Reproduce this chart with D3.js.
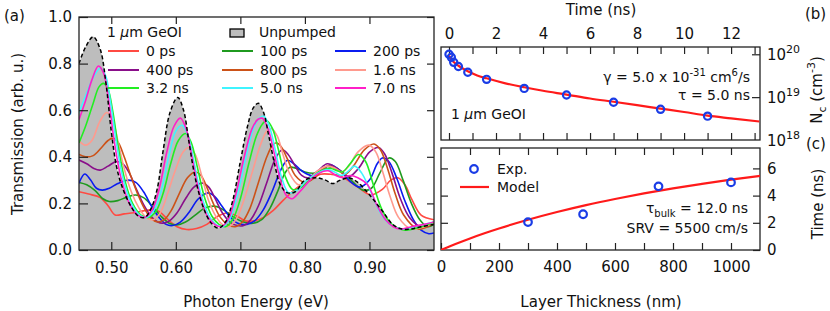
<!DOCTYPE html>
<html lang="en">
<head>
<meta charset="utf-8">
<title>GeOI transient transmission</title>
<script src="https://d3js.org/d3.v7.min.js"></script>
<style>
  body { margin: 0; background: #fff; }
  svg text { font-family: "DejaVu Sans", sans-serif; fill: #111; }
  .tick line { stroke: #222; stroke-width: 1.2px; }
  .tick text { font-size: 15px; }
  .frame { fill: none; stroke: #222; stroke-width: 1.3px; }
</style>
</head>
<body>
<script>
// ---------- panel (a): transmission spectra, [energy eV, transmission] ----------
var unpumped = [[0.45,0.80],[0.46,0.87],[0.472,0.915],[0.483,0.86],[0.492,0.71],[0.50,0.51],[0.508,0.36],[0.517,0.27],[0.53,0.19],[0.542,0.145],[0.552,0.14],[0.562,0.18],[0.571,0.26],[0.58,0.42],[0.591,0.59],[0.603,0.655],[0.612,0.60],[0.62,0.47],[0.63,0.31],[0.643,0.18],[0.655,0.115],[0.666,0.094],[0.677,0.12],[0.688,0.21],[0.70,0.38],[0.711,0.53],[0.72,0.61],[0.728,0.63],[0.736,0.59],[0.744,0.49],[0.753,0.37],[0.762,0.28],[0.773,0.245],[0.785,0.25],[0.80,0.30],[0.817,0.31],[0.832,0.30],[0.843,0.285],[0.855,0.30],[0.868,0.31],[0.882,0.29],[0.896,0.25],[0.908,0.21],[0.922,0.16],[0.936,0.11],[0.95,0.09],[0.965,0.09],[0.98,0.10],[1.0,0.11]];

var t0ps = [[0.45,0.25],[0.465,0.24],[0.483,0.225],[0.495,0.19],[0.506,0.15],[0.52,0.155],[0.535,0.16],[0.55,0.168],[0.562,0.172],[0.574,0.165],[0.588,0.13],[0.602,0.10],[0.617,0.088],[0.632,0.092],[0.648,0.11],[0.665,0.145],[0.681,0.16],[0.695,0.145],[0.708,0.125],[0.722,0.125],[0.736,0.14],[0.751,0.17],[0.767,0.215],[0.789,0.27],[0.808,0.30],[0.824,0.325],[0.84,0.325],[0.853,0.32],[0.866,0.30],[0.882,0.27],[0.902,0.236],[0.92,0.26],[0.933,0.30],[0.944,0.31],[0.955,0.28],[0.966,0.215],[0.98,0.15],[1.0,0.13]];
var t100ps = [[0.45,0.29],[0.462,0.28],[0.475,0.255],[0.487,0.22],[0.497,0.208],[0.51,0.212],[0.525,0.228],[0.538,0.236],[0.55,0.225],[0.563,0.19],[0.577,0.145],[0.59,0.115],[0.602,0.108],[0.615,0.12],[0.63,0.15],[0.645,0.18],[0.661,0.188],[0.675,0.17],[0.69,0.14],[0.705,0.12],[0.72,0.115],[0.733,0.13],[0.746,0.18],[0.759,0.26],[0.769,0.33],[0.777,0.355],[0.787,0.35],[0.80,0.335],[0.815,0.33],[0.83,0.345],[0.845,0.355],[0.86,0.33],[0.875,0.29],[0.89,0.257],[0.903,0.265],[0.916,0.33],[0.93,0.395],[0.94,0.38],[0.952,0.30],[0.965,0.20],[0.978,0.13],[0.99,0.10],[1.0,0.11]];
var t200ps = [[0.45,0.287],[0.459,0.326],[0.468,0.30],[0.477,0.265],[0.486,0.257],[0.497,0.265],[0.51,0.285],[0.526,0.30],[0.538,0.29],[0.55,0.25],[0.562,0.19],[0.574,0.14],[0.585,0.11],[0.595,0.105],[0.607,0.12],[0.62,0.16],[0.635,0.22],[0.65,0.245],[0.66,0.23],[0.671,0.19],[0.683,0.145],[0.696,0.115],[0.71,0.11],[0.722,0.125],[0.735,0.17],[0.749,0.25],[0.762,0.34],[0.773,0.385],[0.783,0.37],[0.795,0.34],[0.81,0.32],[0.825,0.34],[0.84,0.365],[0.855,0.34],[0.87,0.295],[0.885,0.27],[0.90,0.30],[0.912,0.37],[0.92,0.395],[0.93,0.38],[0.942,0.31],[0.955,0.21],[0.968,0.13],[0.98,0.085],[0.992,0.07],[1.0,0.073]];
var t400ps = [[0.45,0.386],[0.462,0.37],[0.473,0.35],[0.483,0.343],[0.495,0.36],[0.508,0.38],[0.518,0.37],[0.528,0.33],[0.539,0.26],[0.551,0.19],[0.563,0.14],[0.572,0.12],[0.58,0.115],[0.59,0.125],[0.602,0.16],[0.615,0.22],[0.628,0.27],[0.641,0.287],[0.651,0.27],[0.661,0.22],[0.672,0.16],[0.684,0.12],[0.695,0.105],[0.705,0.105],[0.716,0.13],[0.728,0.19],[0.741,0.29],[0.754,0.39],[0.765,0.43],[0.774,0.41],[0.785,0.36],[0.795,0.32],[0.805,0.31],[0.82,0.34],[0.835,0.37],[0.85,0.35],[0.868,0.315],[0.883,0.35],[0.90,0.42],[0.914,0.44],[0.924,0.41],[0.935,0.33],[0.948,0.22],[0.962,0.14],[0.98,0.10],[1.0,0.12]];
var t800ps = [[0.45,0.41],[0.46,0.40],[0.472,0.405],[0.485,0.44],[0.495,0.47],[0.503,0.48],[0.511,0.46],[0.52,0.40],[0.53,0.32],[0.541,0.24],[0.553,0.17],[0.562,0.135],[0.572,0.12],[0.582,0.13],[0.593,0.17],[0.605,0.24],[0.618,0.31],[0.63,0.335],[0.639,0.32],[0.648,0.27],[0.658,0.20],[0.669,0.14],[0.68,0.11],[0.692,0.10],[0.703,0.12],[0.715,0.18],[0.728,0.29],[0.741,0.40],[0.75,0.45],[0.756,0.46],[0.764,0.44],[0.773,0.39],[0.785,0.32],[0.80,0.29],[0.815,0.31],[0.835,0.36],[0.85,0.345],[0.862,0.325],[0.875,0.36],[0.892,0.43],[0.907,0.455],[0.917,0.43],[0.928,0.35],[0.94,0.24],[0.953,0.15],[0.975,0.09],[0.99,0.10],[1.0,0.115]];
var t1p6ns = [[0.45,0.47],[0.46,0.45],[0.47,0.47],[0.482,0.55],[0.493,0.59],[0.502,0.56],[0.51,0.47],[0.52,0.35],[0.531,0.25],[0.543,0.18],[0.554,0.14],[0.565,0.13],[0.576,0.16],[0.587,0.24],[0.599,0.34],[0.611,0.42],[0.621,0.44],[0.63,0.41],[0.64,0.32],[0.651,0.21],[0.663,0.14],[0.672,0.11],[0.682,0.10],[0.693,0.13],[0.705,0.21],[0.718,0.33],[0.731,0.45],[0.741,0.51],[0.748,0.52],[0.757,0.49],[0.766,0.41],[0.776,0.33],[0.79,0.28],[0.805,0.30],[0.82,0.34],[0.835,0.36],[0.847,0.35],[0.857,0.335],[0.868,0.36],[0.882,0.42],[0.899,0.45],[0.91,0.42],[0.92,0.34],[0.932,0.23],[0.945,0.14],[0.965,0.09],[0.985,0.10],[1.0,0.12]];
var t3p2ns = [[0.45,0.46],[0.46,0.53],[0.472,0.63],[0.481,0.70],[0.488,0.715],[0.495,0.69],[0.502,0.60],[0.511,0.44],[0.521,0.30],[0.533,0.20],[0.546,0.15],[0.558,0.14],[0.569,0.165],[0.58,0.24],[0.592,0.37],[0.604,0.47],[0.615,0.50],[0.624,0.46],[0.633,0.36],[0.644,0.23],[0.656,0.145],[0.667,0.11],[0.677,0.10],[0.688,0.13],[0.70,0.22],[0.713,0.37],[0.725,0.49],[0.734,0.54],[0.741,0.555],[0.75,0.52],[0.759,0.43],[0.769,0.32],[0.781,0.26],[0.795,0.27],[0.81,0.31],[0.825,0.34],[0.84,0.35],[0.85,0.34],[0.858,0.335],[0.87,0.37],[0.883,0.41],[0.894,0.38],[0.906,0.28],[0.92,0.17],[0.935,0.11],[0.955,0.085],[0.975,0.095],[1.0,0.12]];
var t5p0ns = [[0.45,0.59],[0.46,0.66],[0.472,0.74],[0.483,0.78],[0.491,0.75],[0.499,0.63],[0.508,0.46],[0.518,0.31],[0.531,0.20],[0.544,0.15],[0.555,0.14],[0.566,0.17],[0.577,0.25],[0.589,0.40],[0.60,0.51],[0.61,0.535],[0.619,0.49],[0.628,0.38],[0.639,0.24],[0.651,0.15],[0.662,0.11],[0.672,0.10],[0.683,0.13],[0.695,0.23],[0.708,0.39],[0.72,0.52],[0.729,0.565],[0.736,0.575],[0.745,0.53],[0.754,0.43],[0.764,0.31],[0.775,0.245],[0.787,0.255],[0.803,0.30],[0.82,0.33],[0.835,0.345],[0.846,0.335],[0.856,0.32],[0.866,0.335],[0.877,0.36],[0.888,0.33],[0.902,0.25],[0.917,0.16],[0.932,0.11],[0.95,0.09],[0.97,0.10],[1.0,0.12]];
var t7p0ns = [[0.45,0.56],[0.46,0.64],[0.47,0.73],[0.48,0.79],[0.488,0.76],[0.496,0.64],[0.505,0.46],[0.515,0.31],[0.528,0.20],[0.541,0.15],[0.552,0.14],[0.563,0.17],[0.574,0.26],[0.586,0.42],[0.597,0.53],[0.607,0.566],[0.616,0.52],[0.625,0.40],[0.636,0.25],[0.648,0.15],[0.66,0.11],[0.67,0.10],[0.681,0.13],[0.693,0.24],[0.706,0.40],[0.718,0.52],[0.727,0.56],[0.734,0.565],[0.743,0.52],[0.752,0.42],[0.762,0.30],[0.771,0.235],[0.78,0.22],[0.792,0.25],[0.808,0.30],[0.822,0.33],[0.836,0.34],[0.848,0.32],[0.858,0.31],[0.87,0.32],[0.882,0.31],[0.897,0.28],[0.912,0.19],[0.925,0.13],[0.937,0.10],[0.948,0.09],[0.965,0.10],[0.985,0.11],[1.0,0.12]];

var delayLabels = ["0 ps", "100 ps", "200 ps", "400 ps", "800 ps", "1.6 ns", "3.2 ns", "5.0 ns", "7.0 ns"];
var delayColors = ["#ff4a42", "#1f9a1f", "#0a1cf0", "#8a0f8a", "#cc5218", "#ff9a8e", "#22ee22", "#3ff4ff", "#ff1fc8"];
var delaySeries = [t0ps, t100ps, t200ps, t400ps, t800ps, t1p6ns, t3p2ns, t5p0ns, t7p0ns];
var energyTicks = [0.50, 0.60, 0.70, 0.80, 0.90];
var transTicks = [0.0, 0.2, 0.4, 0.6, 0.8, 1.0];

// ---------- panel (b): carrier density vs time ----------
var bTime = [0, 0.1, 0.2, 0.4, 0.8, 1.6, 3.2, 5.0, 7.0, 9.0, 11.0];
var bDensity = [1.0e20, 8.5e19, 6.5e19, 5.2e19, 3.8e19, 2.6e19, 1.6e19, 1.12e19, 7.6e18, 5.2e18, 3.6e18];
var bFitTime = [0, 0.1, 0.2, 0.4, 0.8, 1.2, 1.6, 2.4, 3.2, 4, 5, 6, 7, 8, 9, 10, 11, 12, 13.2];
var bFitDensity = [9.3e19, 7.6e19, 6.6e19, 5.4e19, 4.0e19, 3.2e19, 2.75e19, 2.1e19, 1.7e19, 1.41e19, 1.15e19, 9.3e18, 7.8e18, 6.5e18, 5.4e18, 4.5e18, 3.7e18, 3.2e18, 2.7e18];

// ---------- panel (c): lifetime vs layer thickness ----------
var cThick = [300, 490, 750, 1000];
var cLife = [2.05, 2.63, 4.68, 4.97];
var cModelThick = [0, 25, 50, 100, 150, 200, 300, 400, 500, 600, 700, 800, 900, 1000, 1100];
var cModelLife = [0, 0.22, 0.44, 0.85, 1.23, 1.58, 2.22, 2.79, 3.30, 3.75, 4.16, 4.53, 4.86, 5.17, 5.45];

var W = 830, H = 311;
var svg = d3.select("body").append("svg").attr("width", W).attr("height", H);

// ================= panel (a) =================
var xA = d3.scaleLinear().domain([0.45, 1.0]).range([79, 434]);
var yA = d3.scaleLinear().domain([0, 1]).range([250, 17]);

svg.append("clipPath").attr("id", "clipA")
   .append("rect").attr("x", 79).attr("y", 17).attr("width", 355).attr("height", 233);

var gA = svg.append("g").attr("clip-path", "url(#clipA)");

var areaA = d3.area().x(d => xA(d[0])).y0(yA(0)).y1(d => yA(d[1])).curve(d3.curveCatmullRom.alpha(0.5));
var lineA = d3.line().x(d => xA(d[0])).y(d => yA(d[1])).curve(d3.curveCatmullRom.alpha(0.5));

gA.append("path").datum(unpumped).attr("d", areaA).attr("fill", "#bdbdbd");

delaySeries.forEach(function(s, i) {
  gA.append("path").datum(s).attr("d", lineA)
    .attr("fill", "none").attr("stroke", delayColors[i]).attr("stroke-width", 1.6);
});

gA.append("path").datum(unpumped).attr("d", lineA)
  .attr("fill", "none").attr("stroke", "#000").attr("stroke-width", 1.5)
  .attr("stroke-dasharray", "4,2.5");

// axes with inward ticks on all sides
svg.append("g").attr("transform", "translate(0,250)")
   .call(d3.axisBottom(xA).tickValues(energyTicks).tickFormat(d3.format(".2f")).tickSizeInner(-8).tickSizeOuter(0).tickPadding(12));
svg.append("g").attr("transform", "translate(0,17)")
   .call(d3.axisTop(xA).tickValues(energyTicks).tickFormat("").tickSizeInner(-7).tickSizeOuter(0));
svg.append("g").attr("transform", "translate(79,0)")
   .call(d3.axisLeft(yA).tickValues(transTicks).tickFormat(d3.format(".1f")).tickSizeInner(-9).tickSizeOuter(0).tickPadding(7));
svg.append("g").attr("transform", "translate(434,0)")
   .call(d3.axisRight(yA).tickValues(transTicks).tickFormat("").tickSizeInner(-7).tickSizeOuter(0));

svg.selectAll(".domain").remove();
svg.append("rect").attr("class", "frame").attr("x", 79).attr("y", 17).attr("width", 355).attr("height", 233);

// legend
var lg = svg.append("g");
var gt = lg.append("text").attr("x", 107).attr("y", 37).attr("font-size", 14);
gt.append("tspan").text("1 ");
gt.append("tspan").attr("font-style", "italic").text("\u03bc");
gt.append("tspan").text("m GeOI");
lg.append("rect").attr("x", 230).attr("y", 29).attr("width", 14).attr("height", 8)
  .attr("fill", "#bdbdbd").attr("stroke", "#000").attr("stroke-width", 1.3);
lg.append("text").attr("x", 259).attr("y", 37).attr("font-size", 14).text("Unpumped");

var colX = [108, 222, 335];
var rowY = [51, 70, 88];
delayLabels.forEach(function(lab, i) {
  var cx = colX[i % 3], cy = rowY[Math.floor(i / 3)];
  lg.append("line").attr("x1", cx).attr("x2", cx + 31).attr("y1", cy).attr("y2", cy)
    .attr("stroke", delayColors[i]).attr("stroke-width", 2);
  lg.append("text").attr("x", cx + 38).attr("y", cy + 5).attr("font-size", 14).text(lab);
});

svg.append("text").attr("x", 256).attr("y", 307).attr("text-anchor", "middle").attr("font-size", 15)
   .text("Photon Energy (eV)");
svg.append("text").attr("transform", "translate(23,134) rotate(-90)").attr("text-anchor", "middle")
   .attr("font-size", 15).text("Transmission (arb. u.)");
svg.append("text").attr("x", 4).attr("y", 21).attr("font-size", 15).text("(a)");

// ================= panel (b) =================
var xB = d3.scaleLinear().domain([-0.34, 13.23]).range([441, 760]);
var yB = d3.scaleLog().domain([1e18, Math.pow(10, 20.17)]).range([140, 47]);

svg.append("g").attr("transform", "translate(0,47)")
   .call(d3.axisTop(xB).tickValues(d3.range(0, 14)).tickFormat(d => d % 2 ? "" : d)
     .tickSizeInner(-7).tickSizeOuter(0).tickPadding(8));
svg.append("g").attr("transform", "translate(0,140)")
   .call(d3.axisBottom(xB).tickValues(d3.range(0, 14)).tickFormat("").tickSizeInner(-7).tickSizeOuter(0));
svg.append("g").attr("transform", "translate(760,0)")
   .call(d3.axisRight(yB).tickValues([1e19, 1e20]).tickFormat("").tickSizeInner(-8).tickSizeOuter(0));

svg.selectAll(".domain").remove();
svg.append("rect").attr("class", "frame").attr("x", 441).attr("y", 47).attr("width", 319).attr("height", 93);

[1e18, 1e19, 1e20].forEach(function(v) {
  var t = svg.append("text").attr("x", 767).attr("y", yB(v) + 6).attr("font-size", 15);
  t.append("tspan").text("10");
  t.append("tspan").attr("dy", -7).attr("font-size", 11).text(Math.round(Math.log10(v)));
});

var lineB = d3.line().x(d => xB(d[0])).y(d => yB(d[1])).curve(d3.curveMonotoneX);
svg.append("path").datum(d3.zip(bFitTime, bFitDensity)).attr("d", lineB)
   .attr("fill", "none").attr("stroke", "#ff1a1a").attr("stroke-width", 2.2);
svg.append("g").selectAll("circle").data(d3.zip(bTime, bDensity)).join("circle")
   .attr("cx", d => xB(d[0])).attr("cy", d => yB(d[1])).attr("r", 3.6)
   .attr("fill", "none").attr("stroke", "#1a3ce6").attr("stroke-width", 2.2);

var gam = svg.append("text").attr("x", 750).attr("y", 82).attr("text-anchor", "end").attr("font-size", 14);
gam.append("tspan").text("\u03b3 = 5.0 x 10");
gam.append("tspan").attr("dy", -6).attr("font-size", 10).text("-31");
gam.append("tspan").attr("dy", 6).text(" cm");
gam.append("tspan").attr("dy", -6).attr("font-size", 10).text("6");
gam.append("tspan").attr("dy", 6).text("/s");
svg.append("text").attr("x", 750).attr("y", 100).attr("text-anchor", "end").attr("font-size", 14)
   .text("\u03c4 = 5.0 ns");
var geo = svg.append("text").attr("x", 451).attr("y", 119).attr("font-size", 14);
geo.append("tspan").text("1 ");
geo.append("tspan").attr("font-style", "italic").text("\u03bc");
geo.append("tspan").text("m GeOI");

svg.append("text").attr("x", 601).attr("y", 15).attr("text-anchor", "middle").attr("font-size", 15).text("Time (ns)");
svg.append("text").attr("x", 805).attr("y", 19).attr("font-size", 15).text("(b)");

var nc = svg.append("text").attr("transform", "translate(822,90) rotate(-90)").attr("text-anchor", "middle").attr("font-size", 15);
nc.append("tspan").text("N");
nc.append("tspan").attr("dy", 4).attr("font-size", 11).text("c");
nc.append("tspan").attr("dy", -4).text(" (cm");
nc.append("tspan").attr("dy", -7).attr("font-size", 11).text("-3");
nc.append("tspan").attr("dy", 7).text(")");

// ================= panel (c) =================
var xC = d3.scaleLinear().domain([0, 1100]).range([441, 760]);
var yC = d3.scaleLinear().domain([0, 7.5]).range([250, 148]);

svg.append("g").attr("transform", "translate(0,250)")
   .call(d3.axisBottom(xC).tickValues(d3.range(0, 1100, 100)).tickFormat(d => d % 200 ? "" : d)
     .tickSizeInner(-7).tickSizeOuter(0).tickPadding(11));
svg.append("g").attr("transform", "translate(0,148)")
   .call(d3.axisTop(xC).tickValues(d3.range(100, 1100, 100)).tickFormat("").tickSizeInner(-7).tickSizeOuter(0));
svg.append("g").attr("transform", "translate(760,0)")
   .call(d3.axisRight(yC).tickValues([0, 2, 4, 6]).tickSizeInner(-7).tickSizeOuter(0).tickPadding(7));
svg.append("g").attr("transform", "translate(441,0)")
   .call(d3.axisLeft(yC).tickValues([2, 4, 6]).tickFormat("").tickSizeInner(-7).tickSizeOuter(0));

svg.selectAll(".domain").remove();
svg.append("rect").attr("class", "frame").attr("x", 441).attr("y", 148).attr("width", 319).attr("height", 102);

svg.append("clipPath").attr("id", "clipC")
   .append("rect").attr("x", 441).attr("y", 148).attr("width", 319).attr("height", 102);

var lineC = d3.line().x(d => xC(d[0])).y(d => yC(d[1])).curve(d3.curveMonotoneX);
svg.append("path").datum(d3.zip(cModelThick, cModelLife)).attr("d", lineC).attr("clip-path", "url(#clipC)")
   .attr("fill", "none").attr("stroke", "#ff1a1a").attr("stroke-width", 2.2);
svg.append("g").selectAll("circle").data(d3.zip(cThick, cLife)).join("circle")
   .attr("cx", d => xC(d[0])).attr("cy", d => yC(d[1])).attr("r", 3.8)
   .attr("fill", "none").attr("stroke", "#1a3ce6").attr("stroke-width", 2.2);

// legend (c)
svg.append("circle").attr("cx", 474).attr("cy", 169).attr("r", 3.8)
   .attr("fill", "none").attr("stroke", "#1a3ce6").attr("stroke-width", 2.2);
svg.append("text").attr("x", 497).attr("y", 174).attr("font-size", 14).text("Exp.");
svg.append("line").attr("x1", 460).attr("x2", 489).attr("y1", 187).attr("y2", 187)
   .attr("stroke", "#ff1a1a").attr("stroke-width", 2.2);
svg.append("text").attr("x", 497).attr("y", 192).attr("font-size", 14).text("Model");

var tb = svg.append("text").attr("x", 748).attr("y", 213).attr("text-anchor", "end").attr("font-size", 14);
tb.append("tspan").text("\u03c4");
tb.append("tspan").attr("dy", 4).attr("font-size", 10).text("bulk");
tb.append("tspan").attr("dy", -4).text(" = 12.0 ns");
svg.append("text").attr("x", 748).attr("y", 233).attr("text-anchor", "end").attr("font-size", 14)
   .text("SRV = 5500 cm/s");

svg.append("text").attr("x", 601).attr("y", 307).attr("text-anchor", "middle").attr("font-size", 15)
   .text("Layer Thickness (nm)");
svg.append("text").attr("transform", "translate(823,204) rotate(-90)").attr("text-anchor", "middle")
   .attr("font-size", 15).text("Time (ns)");
svg.append("text").attr("x", 806).attr("y", 149).attr("font-size", 15).text("(c)");
</script>
</body>
</html>
